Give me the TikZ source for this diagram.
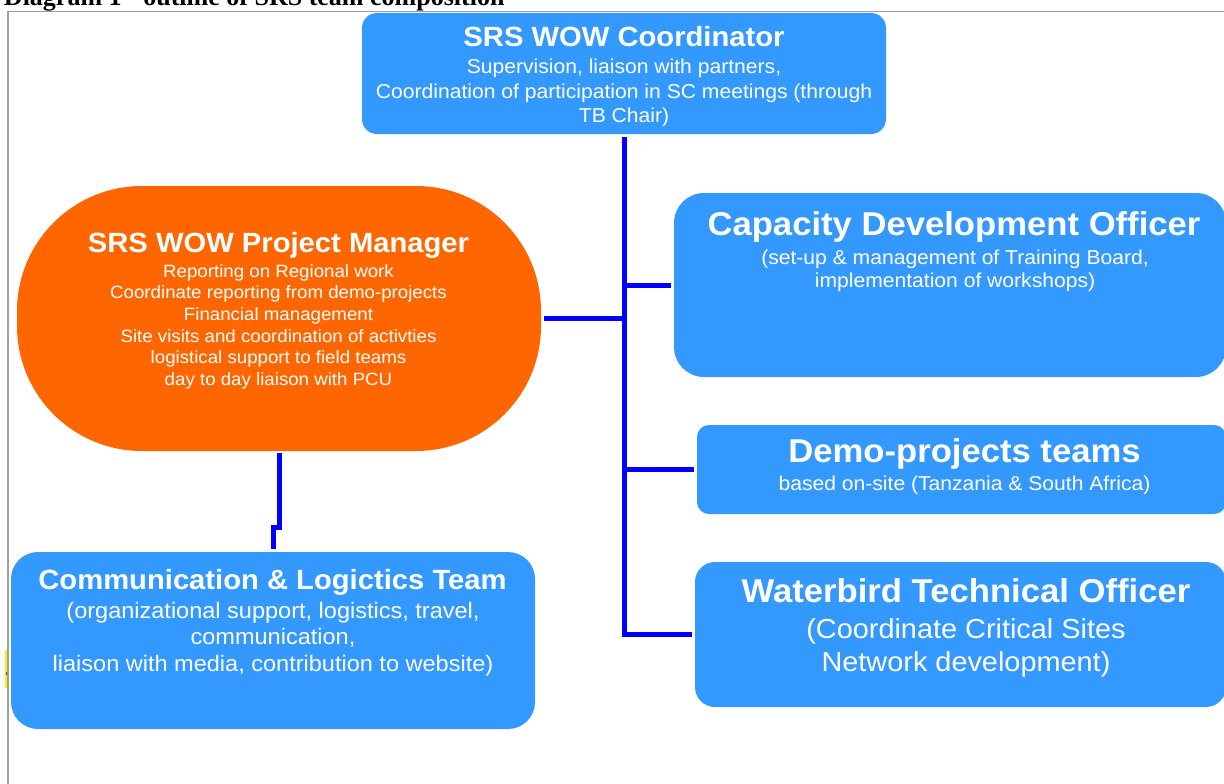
\documentclass[tikz,border=0pt]{standalone}
\usepackage{fontspec}
\setmainfont{Liberation Sans}[FakeStretch=1.05]
\newfontfamily\captionfont{Liberation Serif}
\definecolor{boxblue}{RGB}{51,153,255}
\definecolor{pmorange}{RGB}{255,102,0}
\definecolor{linkblue}{RGB}{0,0,255}
\definecolor{framegray}{RGB}{160,160,160}
\newcommand{\textrows}[1]{\begin{tabular}[t]{@{}c@{}}#1\end{tabular}}
\begin{document}
\begin{tikzpicture}[x=1pt, y=-1pt, inner sep=0pt, outer sep=0pt,
    box/.style={fill=boxblue, rounded corners=#1, anchor=north west},
    link/.style={draw=linkblue, line width=5pt, shorten >=3pt},
    head/.style={text=white, anchor=base, font=\bfseries\fontsize{27.8}{32}\selectfont},
    bighead/.style={text=white, anchor=base, font=\bfseries\fontsize{33}{38}\selectfont},
    body/.style={text=white, anchor=base}]
    \useasboundingbox (0,0) rectangle (1224,784);
    \clip (0,0) rectangle (1224,784);
    % caption, cut at the top of the page
    \node[anchor=base west, font=\captionfont\bfseries\fontsize{26}{30}\selectfont] (caption) at (4,6) {Diagram 1 - outline of SRS team composition};
    \draw[framegray, line width=1.8pt] (1230,11.5) -- (8.3,11.5) -- (8.3,790);
    \fill[yellow] (5.3,650) rectangle (7.3,688);
    \fill[black!70] (5.8,672) rectangle (7.3,675);
    % boxes
    \node[box=15pt, minimum width=524, minimum height=121] (coord) at (362,13) {};
    \node[fill=pmorange, rounded corners=125pt, anchor=north west, minimum width=524, minimum height=265] (pm) at (17,186) {};
    \node[box=30pt, minimum width=552, minimum height=184] (cdo) at (674,193) {};
    \node[box=12pt, minimum width=529, minimum height=89] (demo) at (697,425) {};
    \node[box=20pt, minimum width=531, minimum height=145] (wto) at (695,562) {};
    \node[box=27pt, minimum width=524, minimum height=177] (comm) at (11,552) {};
    % texts
    \node[head] (coord-t) at (624,47) {SRS WOW Coordinator};
    \node[body, font=\fontsize{20.1}{24.5}\selectfont] (coord-b) at (624,74) {\textrows{Supervision, liaison with partners,\\Coordination of participation in SC meetings (through\\TB Chair)}};
    \node[head] (pm-t) at (278.5,252) {SRS WOW Project Manager};
    \node[body, font=\fontsize{17.8}{21.7}\selectfont] (pm-b) at (278.5,277) {\textrows{Reporting on Regional work\\Coordinate reporting from demo-projects\\Financial management\\Site visits and coordination of activties\\logistical support to field teams\\day to day liaison with PCU}};
    \node[bighead] (cdo-t) at (954,235) {Capacity Development Officer};
    \node[body, font=\fontsize{20.1}{23.3}\selectfont] (cdo-b) at (955,264) {\textrows{(set-up \& management of Training Board,\\implementation of workshops)}};
    \node[bighead] (demo-t) at (964.5,462.7) {Demo-projects teams};
    \node[body, font=\fontsize{20.1}{24}\selectfont] (demo-b) at (964.5,490) {based on-site (Tanzania \& South Africa)};
    \node[bighead] (wto-t) at (966,602) {Waterbird Technical Officer};
    \node[body, font=\fontsize{27.5}{33}\selectfont] (wto-b) at (966,638) {\textrows{(Coordinate Critical Sites\\Network development)}};
    \node[head] (comm-t) at (272.5,589) {Communication \& Logictics Team};
    \node[body, font=\fontsize{22.4}{26.7}\selectfont] (comm-b) at (273,618) {\textrows{(organizational support, logistics, travel,\\communication,\\liaison with media, contribution to website)}};
    % connectors
    \draw[link, shorten <=3pt] (coord.south) |- (wto.west);
    \draw[link] (pm.east -| coord.south) -- (pm.east);
    \draw[link] (coord.south |- cdo.west) -- (cdo.west);
    \draw[link] (coord.south |- demo.west) -- (demo.west);
    \draw[link, shorten <=2pt] (pm.south) -- ++(0,76) -| (comm.north);
\end{tikzpicture}
\end{document}
